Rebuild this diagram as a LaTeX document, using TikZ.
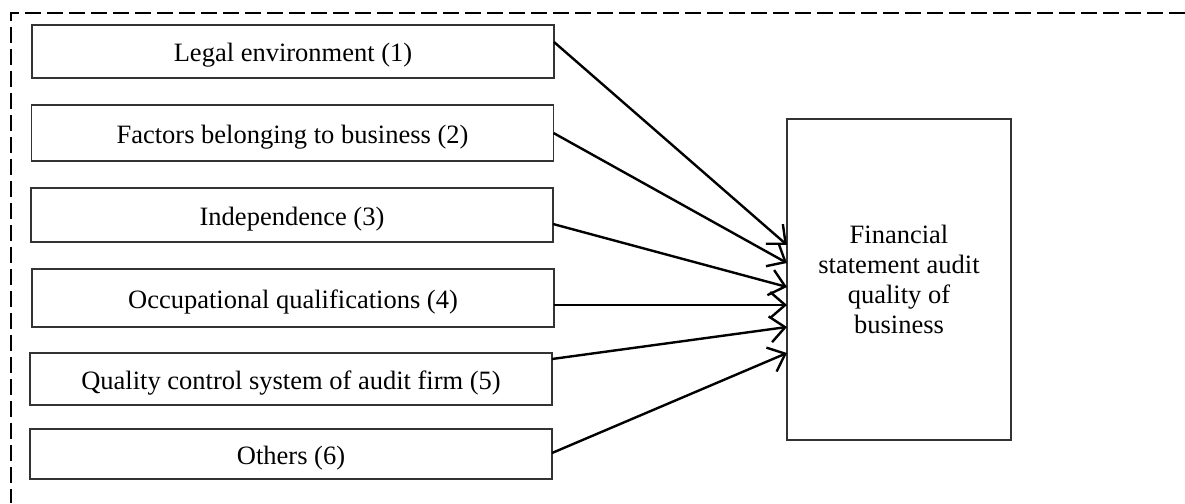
\documentclass[tikz,border=0pt]{standalone}
\usepackage{fontspec}
\setmainfont{Liberation Serif}
\usetikzlibrary{arrows.meta}
\begin{document}
\begin{tikzpicture}[x=1pt,y=-1pt,
  every node/.style={font=\fontsize{26.5pt}{30pt}\selectfont},
  factor/.style={draw=black!80, line width=1.4pt, minimum width=522pt, inner sep=0pt, outer sep=0pt, anchor=center, text height=22pt, text depth=2pt},
  result/.style={draw=black!80, line width=1.4pt, minimum width=224pt, minimum height=321pt, inner sep=0pt, outer sep=0pt, align=center},
  link/.style={line width=2.4pt, -{Straight Barb[length=15pt,width=26pt,line width=2.4pt]}},
  frame/.style={line width=2pt, black, dash pattern=on 16pt off 6pt}
]
\useasboundingbox (0,0) rectangle (1185,503);
\draw[frame] (1185,13) -- (11,13) -- (11,503);

\node[factor, minimum height=53pt] (b1) at (293,51.5) {Legal environment (1)};
\node[factor, minimum height=56pt] (b2) at (292.5,133) {Factors belonging to business (2)};
\node[factor, minimum height=54pt] (b3) at (292,215) {Independence (3)};
\node[factor, minimum height=58pt] (b4) at (293,298) {Occupational qualifications (4)};
\node[factor, minimum height=52pt] (b5) at (291,379) {Quality control system of audit firm (5)};
\node[factor, minimum height=50pt] (b6) at (291,454) {Others (6)};

\node[result] (fin) at (899,279.5) {Financial\\statement audit\\quality of\\business};

\draw[link] ([yshift=9.5pt]b1.east) -- ([yshift=34.5pt]fin.west);
\draw[link] (b2.east) -- ([yshift=16.5pt]fin.west);
\draw[link] ([yshift=-9pt]b3.east) -- ([yshift=-7.5pt]fin.west);
\draw[link] ([yshift=-7pt]b4.east) -- ([yshift=-25.5pt]fin.west);
\draw[link] ([yshift=20pt]b5.east) -- ([yshift=-47.5pt]fin.west);
\draw[link] ([yshift=1pt]b6.east) -- ([yshift=-73.5pt]fin.west);
\end{tikzpicture}
\end{document}
